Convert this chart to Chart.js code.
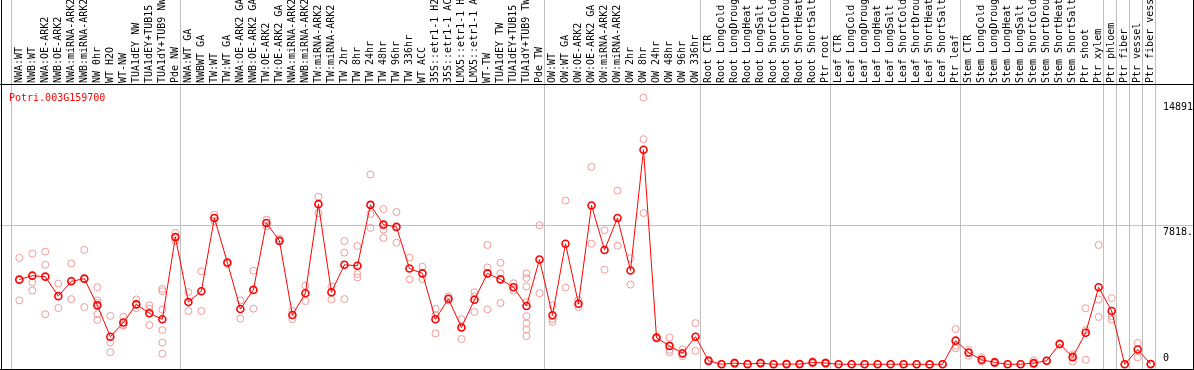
<!DOCTYPE html>
<html>
<head>
<meta charset="utf-8">
<script src="https://cdn.jsdelivr.net/npm/chart.js@4.4.1/dist/chart.umd.min.js"></script>
<style>
  html, body { margin: 0; padding: 0; background: #fff; }
  #wrap { width: 1194px; height: 370px; }
</style>
</head>
<body>
<div id="wrap"><canvas id="chart" width="1194" height="370"></canvas></div>
<script>
// gene shown in the plot
const geneId = 'Potri.003G159700';

// sample names (x axis)
const categories = [
  'NWA:WT', 'NWB:WT', 'NWA:OE-ARK2', 'NWB:OE-ARK2', 'NWA:miRNA-ARK2', 'NWB:miRNA-ARK2',
  'NW 0hr', 'WT H2O', 'WT-NW', 'TUA1dEY NW', 'TUA1dEY+TUB15 NW', 'TUA1dY+TUB9 NW', 'Pde NW',
  'NWA:WT GA', 'NWBWT GA', 'TW:WT', 'TW:WT GA', 'NWA:OE-ARK2 GA', 'NWB:OE-ARK2 GA',
  'TW:OE-ARK2', 'TW:OE-ARK2 GA', 'NWA:miRNA-ARK2 GA', 'NWB:miRNA-ARK2 GA', 'TW:miRNA-ARK2',
  'TW:miRNA-ARK2 GA', 'TW 2hr', 'TW 8hr', 'TW 24hr', 'TW 48hr', 'TW 96hr', 'TW 336hr',
  'WT ACC', '35S::etr1-1 H2O', '35S::etr1-1 ACC', 'LMX5::etr1-1 H2O', 'LMX5::etr1-1 ACC',
  'WT-TW', 'TUA1dEY TW', 'TUA1dEY+TUB15 TW', 'TUA1dY+TUB9 TW', 'Pde TW',
  'OW:WT', 'OW:WT GA', 'OW:OE-ARK2', 'OW:OE-ARK2 GA', 'OW:miRNA-ARK2', 'OW:miRNA-ARK2 GA',
  'OW 2hr', 'OW 8hr', 'OW 24hr', 'OW 48hr', 'OW 96hr', 'OW 336hr',
  'Root CTR', 'Root LongCold', 'Root LongDrought', 'Root LongHeat', 'Root LongSalt',
  'Root ShortCold', 'Root ShortDrought', 'Root ShortHeat', 'Root ShortSalt', 'Ptr root',
  'Leaf CTR', 'Leaf LongCold', 'Leaf LongDrought', 'Leaf LongHeat', 'Leaf LongSalt',
  'Leaf ShortCold', 'Leaf ShortDrought', 'Leaf ShortHeat', 'Leaf ShortSalt', 'Ptr leaf',
  'Stem CTR', 'Stem LongCold', 'Stem LongDrought', 'Stem LongHeat', 'Stem LongSalt',
  'Stem ShortCold', 'Stem ShortDrought', 'Stem ShortHeat', 'Stem ShortSalt', 'Ptr shoot',
  'Ptr xylem', 'Ptr phloem', 'Ptr fiber', 'Ptr vessel', 'Ptr fiber vessel'
];

// mean expression per sample
const meanExpr = [
  4786, 5010, 4954, 3854, 4691, 4842, 3334, 1564, 2362, 3390, 2887, 2552, 7188,
  3519, 4133, 8266, 5753, 3128, 4206, 7987, 6981, 2793, 4021, 9048, 4077, 5624, 5568,
  9009, 7892, 7763, 5417, 5138, 2552, 3703, 2083, 3647, 5138, 4803, 4356, 3295, 5920,
  2776, 6814, 3424, 8975, 6462, 8266, 5306, 12119, 1508, 1044, 631, 1564,
  207, 10, 73, 15, 73, 10, 17, 17, 112, 73,
  10, 10, 10, 10, 10, 10, 10, 0, 10, 1340,
  670, 262, 112, 10, 10, 73, 207, 1156, 408, 1787, 4356,
  3016, 5, 838, 17
];

// individual replicates per sample
const replicateExpr = [
  [6015, 4804, 3614], [6255, 4636, 4172], [6367, 5624, 2832], [4563, 3183],
  [5697, 4730, 3686], [6462, 4842, 3239], [4356, 3613, 3463, 2832, 2513],
  [2737, 1245, 687], [2681, 2234, 2178], [3669, 3390, 3167], [3334, 3144, 2887, 2217],
  [4261, 4133, 3089, 1938, 1229, 598], [7428, 6964],
  [4077, 3016], [5250, 3016], [8450, 8266, 8098], [5753, 5658], [3613, 2586],
  [5289, 3144], [8171, 7802], [7110, 6925], [3016, 2552], [4451, 3574], [9478, 8545],
  [4395, 3669], [6964, 6311, 3686], [6685, 5099, 4915], [10723, 8489, 7707],
  [8768, 7612, 7149], [8601, 6870], [6032, 4803], [5512, 4820], [3144, 2776, 1748],
  [3837, 3613], [2552, 2083, 1435], [4077, 3837, 2960], [6741, 5473, 3111],
  [5736, 5138, 3463], [4580, 4172],
  [5138, 4876, 4395, 3519, 2720, 2307, 1971, 1603], [7858, 4021],
  [3334, 2552, 2402], [9254, 4340], [3630, 3240], [11153, 6814], [7579, 5345],
  [9813, 6702], [5993, 4507], [15063, 12717, 8545], [1564, 1452], [1525, 821, 687],
  [855, 575, 465], [2329, 765],
  [260, 210, 150], [30, 10, 0], [120, 70, 30], [25, 15, 5], [110, 70, 40],
  [20, 10, 0], [30, 15, 5], [35, 20, 5], [180, 110, 50], [120, 70, 30],
  [20, 10, 0], [20, 10, 0], [20, 10, 0], [20, 10, 0], [20, 10, 0],
  [20, 10, 0], [20, 10, 0], [5, 0], [20, 10, 0], [1994, 1061, 910],
  [821, 631, 486], [408, 168], [168, 56], [20, 5], [20, 5], [230, 20, 0],
  [230, 210, 180], [1200, 1156, 1110], [575, 168, 480], [3167, 262, 1932],
  [6741, 3669, 2681], [3742, 2720, 2530], [5, 5], [1212, 391], [20, 15]
];

// first sample index of each tissue group (last entry = end)
const groupStarts = [0, 13, 41, 53, 63, 73, 84, 85, 86, 87, 88];

// right-hand value labels
const yTickValues = [0, 7818.5, 14891];
const yMax = 15776;

const monoFont = '10px "DejaVu Sans Mono", monospace';

const replicatePoints = [];
replicateExpr.forEach((reps, i) => {
  reps.forEach(v => replicatePoints.push({ x: categories[i], y: v }));
});

const framePlugin = {
  id: 'frame',
  beforeDraw(chart) {
    const { ctx, width, height } = chart;
    const x = chart.scales.x;
    const y = chart.scales.y;
    const half = (x.getPixelForValue(1) - x.getPixelForValue(0)) / 2;
    ctx.save();
    ctx.fillStyle = '#c0c0c0';
    groupStarts.forEach(k => {
      const px = Math.floor(x.getPixelForValue(k) - half - 1.7);
      ctx.fillRect(px, 0, 1, height);
    });
    const gy = Math.floor(y.getPixelForValue(yTickValues[1]));
    ctx.fillRect(0, gy, width, 1);
    ctx.restore();
  },
  afterDatasetsDraw(chart) {
    const { ctx, width, height } = chart;
    ctx.save();
    ctx.fillStyle = '#000';
    ctx.fillRect(0, 84, width, 1);       // line under the sample names
    ctx.fillRect(1, 0, 1, height);       // left border
    ctx.fillRect(1193, 0, 1, height);    // right border
    ctx.fillRect(0, 369, width, 1);      // bottom border
    ctx.restore();
  },
  afterDraw(chart) {
    const { ctx } = chart;
    const y = chart.scales.y;
    ctx.save();
    ctx.font = monoFont;
    ctx.textBaseline = 'alphabetic';
    ctx.textAlign = 'left';
    ctx.fillStyle = '#ff0000';
    ctx.fillText(geneId, 9, 101);
    ctx.fillStyle = '#000';
    yTickValues.forEach(v => {
      const py = y.getPixelForValue(v);
      const base = v === 0 ? py - 3 : py + 9.3;
      ctx.fillText(String(v), 1163, base);
    });
    ctx.restore();
  }
};

new Chart(document.getElementById('chart'), {
  type: 'line',
  data: {
    labels: categories,
    datasets: [
      {
        label: 'mean',
        data: meanExpr,
        borderColor: '#ff0000',
        borderWidth: 1,
        pointRadius: 3.5,
        pointBorderWidth: 1.6,
        pointBorderColor: '#ff0000',
        pointBackgroundColor: 'rgba(0,0,0,0)',
        tension: 0,
        clip: false
      },
      {
        label: 'replicates',
        data: replicatePoints,
        showLine: false,
        pointRadius: 3.5,
        pointBorderWidth: 1,
        pointBorderColor: '#ef9a9a',
        pointBackgroundColor: 'rgba(0,0,0,0)',
        clip: false
      }
    ]
  },
  options: {
    responsive: false,
    animation: false,
    events: [],
    layout: { padding: { left: 12.8, right: 0, top: 0, bottom: 2 } },
    plugins: {
      legend: { display: false },
      tooltip: { enabled: false }
    },
    scales: {
      x: {
        type: 'category',
        position: 'top',
        offset: true,
        grid: { display: false, drawTicks: false },
        border: { display: false },
        ticks: {
          autoSkip: false,
          minRotation: 90,
          maxRotation: 90,
          padding: 2,
          labelOffset: 12,
          color: '#000',
          font: { family: '"DejaVu Sans Mono", monospace', size: 10 }
        },
        afterFit(scale) { scale.height = 85; }
      },
      y: {
        position: 'right',
        min: 0,
        max: yMax,
        grid: { display: false, drawTicks: false },
        border: { display: false },
        ticks: { display: false },
        afterFit(scale) { scale.width = 36.8; }
      }
    }
  },
  plugins: [framePlugin]
});
</script>
</body>
</html>
